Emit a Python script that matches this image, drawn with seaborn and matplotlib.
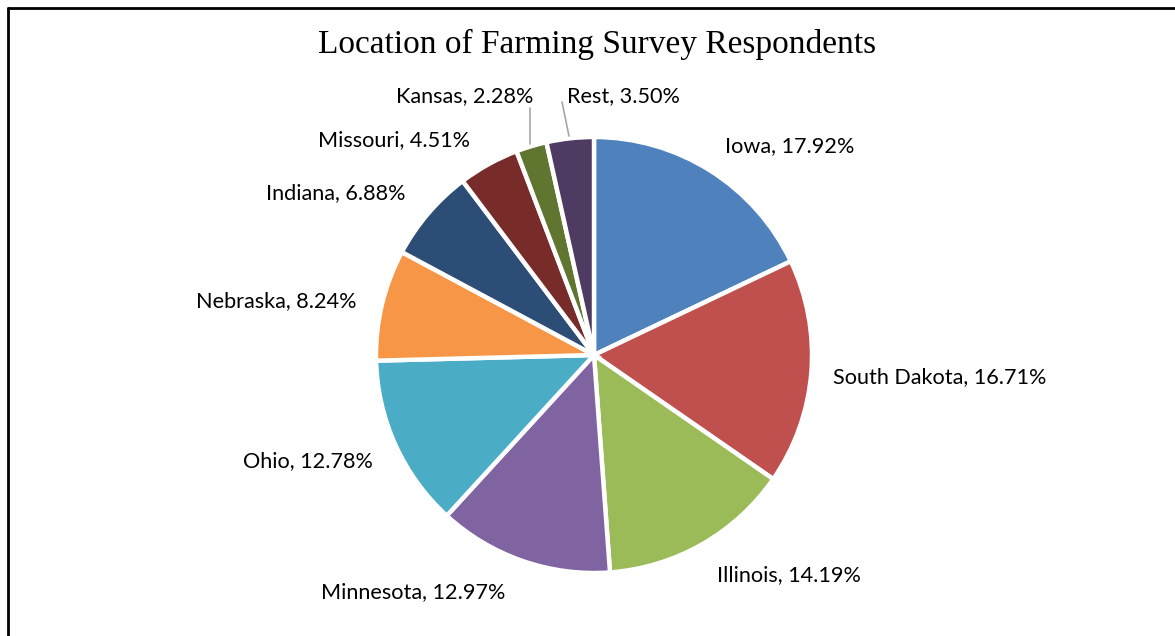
import matplotlib
matplotlib.use("Agg")
import matplotlib.pyplot as plt
from matplotlib.lines import Line2D
import seaborn as sns

# Survey share by state (percent of respondents)
states = ["Iowa", "South Dakota", "Illinois", "Minnesota", "Ohio",
          "Nebraska", "Indiana", "Missouri", "Kansas", "Rest"]
shares = [17.92, 16.71, 14.19, 12.97, 12.78, 8.24, 6.88, 4.51, 2.28, 3.50]
colors = ["#4F81BD", "#C0504D", "#9BBB59", "#8064A2", "#4BACC6",
          "#F79646", "#2C4D75", "#772C2A", "#5F7530", "#4D3B62"]

sns.set_theme(style="white")
palette = sns.color_palette(colors)

W, H = 1175, 636
fig = plt.figure(figsize=(W / 100, H / 100), dpi=100)
ax = fig.add_axes([0, 0, 1, 1])

cx, cy, r = 594, H - 355, 218
ax.pie(shares, colors=palette, startangle=90, counterclock=False,
       center=(cx, cy), radius=r, frame=True,
       wedgeprops=dict(edgecolor="white", linewidth=3.2))
ax.set_xlim(0, W)
ax.set_ylim(0, H)
ax.set_aspect("equal")
ax.set_axis_off()

# label placement: (centre x, baseline y) in pixels from the top-left
label_pos = [(790, 152), (940, 383), (789, 581), (413, 598), (308, 467),
             (276, 307), (336, 199), (394, 146), (465, 102), (623, 102)]
label_font = ["Lato", "DejaVu Sans"]
for name, val, (lx, ly) in zip(states, shares, label_pos):
    ax.text(lx, H - ly, f"{name}, {val:.2f}%", ha="center", va="baseline",
            fontsize=15.6, family=label_font, color="#000000")

# leader lines for the two thin slices
ax.plot([530, 530], [H - 108, H - 144], color="#A6A6A6", lw=1.2)
ax.plot([562, 569], [H - 102, H - 136], color="#A6A6A6", lw=1.2)

fig.text(597 / W, 1 - 53 / H, "Location of Farming Survey Respondents",
         ha="center", va="baseline", fontsize=24,
         family=["Liberation Serif", "DejaVu Serif"], color="#000000")

# frame edges along the top and left
fig.add_artist(Line2D([8 / W, 8 / W], [0, 1 - 8 / H], transform=fig.transFigure,
                      color="black", lw=2))
fig.add_artist(Line2D([8 / W, 1], [1 - 8 / H, 1 - 8 / H], transform=fig.transFigure,
                      color="black", lw=2))

fig.savefig("out.png", dpi=100, facecolor="white")
